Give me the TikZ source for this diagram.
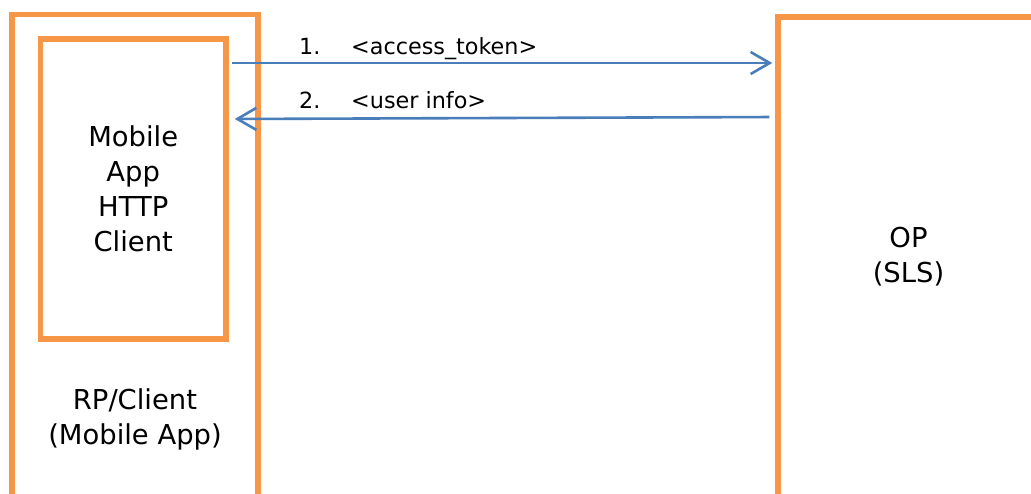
\documentclass[tikz,border=0pt]{standalone}
\usepackage{fontspec}
\setmainfont{DejaVu Sans}
\usetikzlibrary{arrows.meta}
\definecolor{boxorange}{HTML}{F79646}
\definecolor{arrowblue}{HTML}{4A7EBB}
\tikzset{
  box/.style={draw=boxorange, line width=5.5pt, rectangle, inner sep=0pt, outer sep=2.75pt,
              align=center, font=\fontsize{27.4}{35}\selectfont, text=black},
  boxtext/.style={align=center, inner sep=0pt, font=\fontsize{27.4}{35}\selectfont, text=black},
  msg/.style={anchor=base west, inner sep=0pt, font=\fontsize{22.3}{26}\selectfont, text=black},
  arr/.style={draw=arrowblue, line width=2.6pt, -{Straight Barb[length=19pt,width=22pt]}}
}
\begin{document}
\begin{tikzpicture}[x=1pt,y=-1pt]
\useasboundingbox (0,0) rectangle (1031,493);
\clip (0,0) rectangle (1031,493);
\fill[white] (0,0) rectangle (1031,493);
% boxes
\node[box, minimum width=246pt, minimum height=515.5pt] (rp) at (135,272.25) {};
\node[box, minimum width=185.5pt, minimum height=300pt] (inner) at (133.25,189) {Mobile\\App\\HTTP\\Client};
\node[box, minimum width=261pt, minimum height=480pt] (op) at (908.5,257) {OP\\(SLS)};
\node[boxtext] (rplabel) at (135,419.4) {RP/Client\\(Mobile App)};
% messages
\node[msg] (n1) at (299,54.5) {1.};
\node[msg] (m1) at (351,54.5) {<access\_token>};
\node[msg] (n2) at (299,108.5) {2.};
\node[msg] (m2) at (351,108.5) {<user info>};
% arrows
\draw[arr, shorten <=3pt, shorten >=3pt] (inner.east |- 0,63) -- (op.west |- 0,63);
\draw[arr, shorten <=6pt, shorten >=6pt] (op.west |- 0,117) -- (inner.east |- 0,119);
\end{tikzpicture}
\end{document}
